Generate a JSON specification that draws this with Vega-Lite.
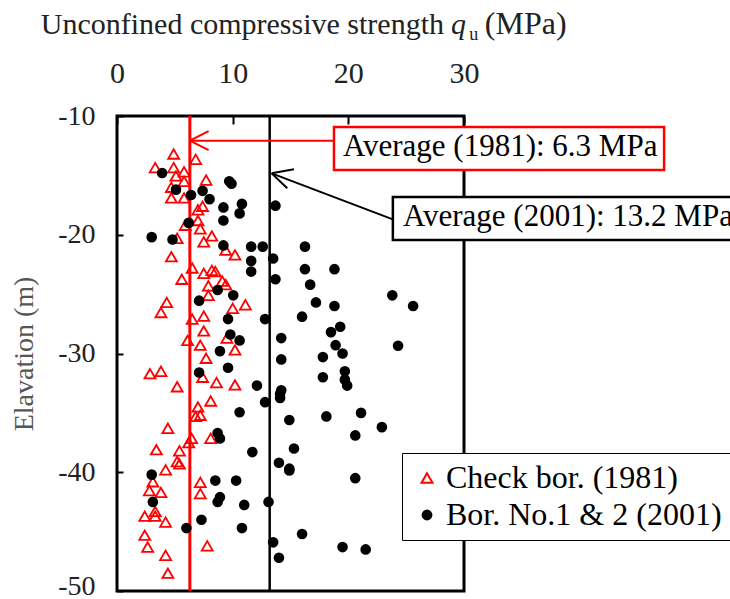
{
  "$schema": "https://vega.github.io/schema/vega-lite/v6.json",
  "width": 347,
  "height": 475,
  "autosize": {"type": "none"},
  "padding": {"left": 117, "top": 116, "right": 266, "bottom": 8},
  "background": "white",
  "data": {"values": [{}]},
  "config": {
    "view": {"stroke": "black", "strokeWidth": 3},
    "font": "Liberation Serif",
    "axis": {
      "domain": false,
      "grid": false,
      "tickColor": "black",
      "tickWidth": 2,
      "labelFont": "Liberation Serif",
      "labelColor": "#222",
      "titleFont": "Liberation Serif",
      "titleFontWeight": "normal"
    }
  },
  "datasets": {
    "samples": [
      {"series": "Check bor. (1981)", "q": 4.9, "elev": -13.2},
      {"series": "Check bor. (1981)", "q": 6.8, "elev": -13.65},
      {"series": "Check bor. (1981)", "q": 3.3, "elev": -14.35},
      {"series": "Check bor. (1981)", "q": 4.9, "elev": -14.35},
      {"series": "Check bor. (1981)", "q": 5.8, "elev": -14.7},
      {"series": "Check bor. (1981)", "q": 5.1, "elev": -15.05},
      {"series": "Check bor. (1981)", "q": 7.7, "elev": -15.4},
      {"series": "Check bor. (1981)", "q": 5.8, "elev": -15.5},
      {"series": "Check bor. (1981)", "q": 4.7, "elev": -16.0},
      {"series": "Check bor. (1981)", "q": 4.7, "elev": -16.9},
      {"series": "Check bor. (1981)", "q": 5.8, "elev": -16.9},
      {"series": "Check bor. (1981)", "q": 7.0, "elev": -17.9},
      {"series": "Check bor. (1981)", "q": 7.4, "elev": -17.6},
      {"series": "Check bor. (1981)", "q": 7.0, "elev": -18.8},
      {"series": "Check bor. (1981)", "q": 7.2, "elev": -19.5},
      {"series": "Check bor. (1981)", "q": 5.9, "elev": -19.2},
      {"series": "Check bor. (1981)", "q": 8.2, "elev": -20.1},
      {"series": "Check bor. (1981)", "q": 5.2, "elev": -20.3},
      {"series": "Check bor. (1981)", "q": 7.5, "elev": -20.6},
      {"series": "Check bor. (1981)", "q": 9.4, "elev": -21.3},
      {"series": "Check bor. (1981)", "q": 10.2, "elev": -21.7},
      {"series": "Check bor. (1981)", "q": 4.7, "elev": -21.85},
      {"series": "Check bor. (1981)", "q": 6.5, "elev": -22.8},
      {"series": "Check bor. (1981)", "q": 7.5, "elev": -23.25},
      {"series": "Check bor. (1981)", "q": 8.2, "elev": -23.0},
      {"series": "Check bor. (1981)", "q": 8.5, "elev": -23.1},
      {"series": "Check bor. (1981)", "q": 5.6, "elev": -23.75},
      {"series": "Check bor. (1981)", "q": 9.1, "elev": -23.9},
      {"series": "Check bor. (1981)", "q": 9.4, "elev": -24.2},
      {"series": "Check bor. (1981)", "q": 7.9, "elev": -24.3},
      {"series": "Check bor. (1981)", "q": 7.9, "elev": -25.1},
      {"series": "Check bor. (1981)", "q": 4.3, "elev": -25.7},
      {"series": "Check bor. (1981)", "q": 3.8, "elev": -26.55},
      {"series": "Check bor. (1981)", "q": 11.1, "elev": -25.9},
      {"series": "Check bor. (1981)", "q": 10.0, "elev": -26.2},
      {"series": "Check bor. (1981)", "q": 6.5, "elev": -27.1},
      {"series": "Check bor. (1981)", "q": 7.5, "elev": -26.85},
      {"series": "Check bor. (1981)", "q": 7.5, "elev": -28.1},
      {"series": "Check bor. (1981)", "q": 6.1, "elev": -28.9},
      {"series": "Check bor. (1981)", "q": 7.2, "elev": -29.3},
      {"series": "Check bor. (1981)", "q": 9.5, "elev": -28.7},
      {"series": "Check bor. (1981)", "q": 10.2, "elev": -29.7},
      {"series": "Check bor. (1981)", "q": 7.7, "elev": -30.4},
      {"series": "Check bor. (1981)", "q": 2.85, "elev": -31.7},
      {"series": "Check bor. (1981)", "q": 3.8, "elev": -31.5},
      {"series": "Check bor. (1981)", "q": 7.4, "elev": -32.0},
      {"series": "Check bor. (1981)", "q": 5.2, "elev": -32.8},
      {"series": "Check bor. (1981)", "q": 8.6, "elev": -32.45},
      {"series": "Check bor. (1981)", "q": 10.2, "elev": -32.65},
      {"series": "Check bor. (1981)", "q": 8.1, "elev": -34.0},
      {"series": "Check bor. (1981)", "q": 7.0, "elev": -34.5},
      {"series": "Check bor. (1981)", "q": 6.8, "elev": -35.3},
      {"series": "Check bor. (1981)", "q": 7.2, "elev": -35.2},
      {"series": "Check bor. (1981)", "q": 4.4, "elev": -36.3},
      {"series": "Check bor. (1981)", "q": 6.45, "elev": -37.15},
      {"series": "Check bor. (1981)", "q": 6.2, "elev": -37.5},
      {"series": "Check bor. (1981)", "q": 8.1, "elev": -37.15},
      {"series": "Check bor. (1981)", "q": 3.4, "elev": -38.1},
      {"series": "Check bor. (1981)", "q": 5.4, "elev": -38.2},
      {"series": "Check bor. (1981)", "q": 5.2, "elev": -39.1},
      {"series": "Check bor. (1981)", "q": 5.4, "elev": -39.3},
      {"series": "Check bor. (1981)", "q": 4.2, "elev": -39.8},
      {"series": "Check bor. (1981)", "q": 3.1, "elev": -40.8},
      {"series": "Check bor. (1981)", "q": 2.8, "elev": -41.55},
      {"series": "Check bor. (1981)", "q": 3.8, "elev": -41.7},
      {"series": "Check bor. (1981)", "q": 7.2, "elev": -40.85},
      {"series": "Check bor. (1981)", "q": 7.2, "elev": -41.8},
      {"series": "Check bor. (1981)", "q": 3.3, "elev": -43.3},
      {"series": "Check bor. (1981)", "q": 3.3, "elev": -43.7},
      {"series": "Check bor. (1981)", "q": 2.4, "elev": -43.7},
      {"series": "Check bor. (1981)", "q": 4.2, "elev": -44.2},
      {"series": "Check bor. (1981)", "q": 2.4, "elev": -45.3},
      {"series": "Check bor. (1981)", "q": 2.65, "elev": -46.3},
      {"series": "Check bor. (1981)", "q": 7.8, "elev": -46.2},
      {"series": "Check bor. (1981)", "q": 4.2, "elev": -47.0},
      {"series": "Check bor. (1981)", "q": 4.4, "elev": -48.5},
      {"series": "Bor. No.1 & 2 (2001)", "q": 3.9, "elev": -14.8},
      {"series": "Bor. No.1 & 2 (2001)", "q": 9.7, "elev": -15.5},
      {"series": "Bor. No.1 & 2 (2001)", "q": 9.9, "elev": -15.7},
      {"series": "Bor. No.1 & 2 (2001)", "q": 5.1, "elev": -16.2},
      {"series": "Bor. No.1 & 2 (2001)", "q": 6.4, "elev": -16.65},
      {"series": "Bor. No.1 & 2 (2001)", "q": 7.4, "elev": -16.3},
      {"series": "Bor. No.1 & 2 (2001)", "q": 8.0, "elev": -17.0},
      {"series": "Bor. No.1 & 2 (2001)", "q": 9.2, "elev": -17.7},
      {"series": "Bor. No.1 & 2 (2001)", "q": 10.8, "elev": -17.4},
      {"series": "Bor. No.1 & 2 (2001)", "q": 10.6, "elev": -18.2},
      {"series": "Bor. No.1 & 2 (2001)", "q": 9.2, "elev": -18.8},
      {"series": "Bor. No.1 & 2 (2001)", "q": 6.2, "elev": -19.0},
      {"series": "Bor. No.1 & 2 (2001)", "q": 3.0, "elev": -20.2},
      {"series": "Bor. No.1 & 2 (2001)", "q": 4.8, "elev": -20.4},
      {"series": "Bor. No.1 & 2 (2001)", "q": 9.2, "elev": -20.9},
      {"series": "Bor. No.1 & 2 (2001)", "q": 11.6, "elev": -21.0},
      {"series": "Bor. No.1 & 2 (2001)", "q": 12.6, "elev": -21.0},
      {"series": "Bor. No.1 & 2 (2001)", "q": 11.6, "elev": -22.2},
      {"series": "Bor. No.1 & 2 (2001)", "q": 13.5, "elev": -22.0},
      {"series": "Bor. No.1 & 2 (2001)", "q": 13.7, "elev": -17.55},
      {"series": "Bor. No.1 & 2 (2001)", "q": 16.25, "elev": -21.0},
      {"series": "Bor. No.1 & 2 (2001)", "q": 11.6, "elev": -23.1},
      {"series": "Bor. No.1 & 2 (2001)", "q": 16.25, "elev": -22.9},
      {"series": "Bor. No.1 & 2 (2001)", "q": 18.8, "elev": -22.9},
      {"series": "Bor. No.1 & 2 (2001)", "q": 13.7, "elev": -23.75},
      {"series": "Bor. No.1 & 2 (2001)", "q": 16.7, "elev": -24.2},
      {"series": "Bor. No.1 & 2 (2001)", "q": 23.8, "elev": -25.1},
      {"series": "Bor. No.1 & 2 (2001)", "q": 25.6, "elev": -26.0},
      {"series": "Bor. No.1 & 2 (2001)", "q": 17.2, "elev": -25.7},
      {"series": "Bor. No.1 & 2 (2001)", "q": 18.8, "elev": -26.0},
      {"series": "Bor. No.1 & 2 (2001)", "q": 16.0, "elev": -26.9},
      {"series": "Bor. No.1 & 2 (2001)", "q": 12.8, "elev": -27.1},
      {"series": "Bor. No.1 & 2 (2001)", "q": 19.3, "elev": -27.75},
      {"series": "Bor. No.1 & 2 (2001)", "q": 18.5, "elev": -28.2},
      {"series": "Bor. No.1 & 2 (2001)", "q": 14.2, "elev": -28.7},
      {"series": "Bor. No.1 & 2 (2001)", "q": 18.9, "elev": -29.3},
      {"series": "Bor. No.1 & 2 (2001)", "q": 24.3, "elev": -29.35},
      {"series": "Bor. No.1 & 2 (2001)", "q": 19.5, "elev": -30.0},
      {"series": "Bor. No.1 & 2 (2001)", "q": 17.8, "elev": -30.3},
      {"series": "Bor. No.1 & 2 (2001)", "q": 14.2, "elev": -30.5},
      {"series": "Bor. No.1 & 2 (2001)", "q": 19.7, "elev": -31.5},
      {"series": "Bor. No.1 & 2 (2001)", "q": 19.7, "elev": -32.2},
      {"series": "Bor. No.1 & 2 (2001)", "q": 19.9, "elev": -32.7},
      {"series": "Bor. No.1 & 2 (2001)", "q": 17.8, "elev": -32.0},
      {"series": "Bor. No.1 & 2 (2001)", "q": 12.1, "elev": -32.7},
      {"series": "Bor. No.1 & 2 (2001)", "q": 14.2, "elev": -33.1},
      {"series": "Bor. No.1 & 2 (2001)", "q": 14.1, "elev": -33.4},
      {"series": "Bor. No.1 & 2 (2001)", "q": 14.1, "elev": -33.75},
      {"series": "Bor. No.1 & 2 (2001)", "q": 12.8, "elev": -34.1},
      {"series": "Bor. No.1 & 2 (2001)", "q": 14.9, "elev": -35.6},
      {"series": "Bor. No.1 & 2 (2001)", "q": 18.1, "elev": -35.3},
      {"series": "Bor. No.1 & 2 (2001)", "q": 21.1, "elev": -35.0},
      {"series": "Bor. No.1 & 2 (2001)", "q": 22.9, "elev": -36.2},
      {"series": "Bor. No.1 & 2 (2001)", "q": 20.6, "elev": -36.9},
      {"series": "Bor. No.1 & 2 (2001)", "q": 11.7, "elev": -38.3},
      {"series": "Bor. No.1 & 2 (2001)", "q": 15.3, "elev": -38.0},
      {"series": "Bor. No.1 & 2 (2001)", "q": 14.0, "elev": -39.2},
      {"series": "Bor. No.1 & 2 (2001)", "q": 14.9, "elev": -39.7},
      {"series": "Bor. No.1 & 2 (2001)", "q": 14.9, "elev": -39.85},
      {"series": "Bor. No.1 & 2 (2001)", "q": 20.6, "elev": -40.5},
      {"series": "Bor. No.1 & 2 (2001)", "q": 13.1, "elev": -42.5},
      {"series": "Bor. No.1 & 2 (2001)", "q": 16.0, "elev": -45.2},
      {"series": "Bor. No.1 & 2 (2001)", "q": 13.5, "elev": -45.9},
      {"series": "Bor. No.1 & 2 (2001)", "q": 19.5, "elev": -46.3},
      {"series": "Bor. No.1 & 2 (2001)", "q": 21.5, "elev": -46.5},
      {"series": "Bor. No.1 & 2 (2001)", "q": 14.0, "elev": -47.2},
      {"series": "Bor. No.1 & 2 (2001)", "q": 8.7, "elev": -24.65},
      {"series": "Bor. No.1 & 2 (2001)", "q": 10.05, "elev": -25.1},
      {"series": "Bor. No.1 & 2 (2001)", "q": 7.1, "elev": -25.55},
      {"series": "Bor. No.1 & 2 (2001)", "q": 9.6, "elev": -27.1},
      {"series": "Bor. No.1 & 2 (2001)", "q": 9.8, "elev": -28.4},
      {"series": "Bor. No.1 & 2 (2001)", "q": 10.6, "elev": -28.9},
      {"series": "Bor. No.1 & 2 (2001)", "q": 8.9, "elev": -29.8},
      {"series": "Bor. No.1 & 2 (2001)", "q": 9.6, "elev": -31.2},
      {"series": "Bor. No.1 & 2 (2001)", "q": 7.1, "elev": -31.6},
      {"series": "Bor. No.1 & 2 (2001)", "q": 10.6, "elev": -34.95},
      {"series": "Bor. No.1 & 2 (2001)", "q": 8.7, "elev": -36.7},
      {"series": "Bor. No.1 & 2 (2001)", "q": 8.9, "elev": -37.15},
      {"series": "Bor. No.1 & 2 (2001)", "q": 3.0, "elev": -40.2},
      {"series": "Bor. No.1 & 2 (2001)", "q": 3.1, "elev": -42.5},
      {"series": "Bor. No.1 & 2 (2001)", "q": 8.5, "elev": -40.7},
      {"series": "Bor. No.1 & 2 (2001)", "q": 10.3, "elev": -40.7},
      {"series": "Bor. No.1 & 2 (2001)", "q": 8.9, "elev": -42.1},
      {"series": "Bor. No.1 & 2 (2001)", "q": 8.7, "elev": -42.5},
      {"series": "Bor. No.1 & 2 (2001)", "q": 11.0, "elev": -42.75},
      {"series": "Bor. No.1 & 2 (2001)", "q": 7.3, "elev": -44.0},
      {"series": "Bor. No.1 & 2 (2001)", "q": 6.0, "elev": -44.7},
      {"series": "Bor. No.1 & 2 (2001)", "q": 10.8, "elev": -44.7}
    ]
  },
  "layer": [
    {
      "mark": {"type": "rule", "color": "#ff0000", "strokeWidth": 3},
      "encoding": {"x": {"datum": 6.3, "type": "quantitative"}}
    },
    {
      "mark": {"type": "rule", "color": "black", "strokeWidth": 2.5},
      "encoding": {"x": {"datum": 13.2, "type": "quantitative"}}
    },
    {
      "data": {"name": "samples"},
      "mark": {"type": "point", "strokeWidth": 1.8, "opacity": 1},
      "encoding": {
        "x": {
          "field": "q",
          "type": "quantitative",
          "scale": {"domain": [0, 30], "nice": false, "zero": false},
          "axis": {
            "orient": "top",
            "values": [0, 10, 20, 30],
            "tickSize": -8,
            "labelPadding": 36,
            "labelFontSize": 30,
            "labelFlush": false,
            "title": null
          }
        },
        "y": {
          "field": "elev",
          "type": "quantitative",
          "scale": {"domain": [-50, -10], "nice": false, "zero": false},
          "axis": {
            "values": [-10, -20, -30, -40, -50],
            "tickSize": -6,
            "labelPadding": 28,
            "labelOffset": {"condition": {"test": "datum.value == -50", "value": -5}, "value": 0},
            "labelFontSize": 28,
            "labelFlush": false,
            "labelExpr": "'' + datum.value",
            "title": "Elavation (m)",
            "titleFontSize": 28,
            "titleColor": "#555",
            "titlePadding": 19
          }
        },
        "shape": {
          "field": "series",
          "type": "nominal",
          "scale": {"domain": ["Check bor. (1981)", "Bor. No.1 & 2 (2001)"], "range": ["triangle-up", "circle"]},
          "legend": {
            "title": null,
            "orient": "none",
            "legendX": 285,
            "legendY": 337,
            "padding": 9,
            "symbolOffset": 0,
            "labelOffset": 3,
            "rowPadding": 5,
            "strokeColor": "black",
            "fillColor": "white",
            "labelFont": "Liberation Serif",
            "labelFontSize": 32,
            "labelColor": "black",
            "labelLimit": 400,
            "symbolStrokeWidth": 2,
            "encode": {"legend": {"update": {"strokeWidth": {"value": 2}}}}
          }
        },
        "stroke": {
          "field": "series",
          "type": "nominal",
          "scale": {"domain": ["Check bor. (1981)", "Bor. No.1 & 2 (2001)"], "range": ["#ff0000", "#000000"]}
        },
        "fill": {
          "field": "series",
          "type": "nominal",
          "scale": {"domain": ["Check bor. (1981)", "Bor. No.1 & 2 (2001)"], "range": ["transparent", "#000000"]}
        },
        "size": {
          "field": "series",
          "type": "nominal",
          "scale": {"domain": ["Check bor. (1981)", "Bor. No.1 & 2 (2001)"], "range": [120, 78]}
        }
      }
    },
    {
      "mark": {"type": "rule", "color": "#ff0000", "strokeWidth": 2},
      "encoding": {
        "x": {"datum": 6.3, "type": "quantitative"},
        "x2": {"datum": 18.76},
        "y": {"datum": -12.08, "type": "quantitative"}
      }
    },
    {
      "mark": {"type": "rule", "color": "#ff0000", "strokeWidth": 2},
      "encoding": {
        "x": {"datum": 6.3, "type": "quantitative"},
        "x2": {"datum": 7.92},
        "y": {"datum": -12.08, "type": "quantitative"},
        "y2": {"datum": -11.28}
      }
    },
    {
      "mark": {"type": "rule", "color": "#ff0000", "strokeWidth": 2},
      "encoding": {
        "x": {"datum": 6.3, "type": "quantitative"},
        "x2": {"datum": 7.92},
        "y": {"datum": -12.08, "type": "quantitative"},
        "y2": {"datum": -12.88}
      }
    },
    {
      "mark": {"type": "rule", "color": "black", "strokeWidth": 2},
      "encoding": {
        "x": {"datum": 13.37, "type": "quantitative"},
        "x2": {"datum": 23.85},
        "y": {"datum": -14.83, "type": "quantitative"},
        "y2": {"datum": -18.7}
      }
    },
    {
      "mark": {"type": "rule", "color": "black", "strokeWidth": 2},
      "encoding": {
        "x": {"datum": 13.37, "type": "quantitative"},
        "x2": {"datum": 15.3},
        "y": {"datum": -14.83, "type": "quantitative"},
        "y2": {"datum": -14.49}
      }
    },
    {
      "mark": {"type": "rule", "color": "black", "strokeWidth": 2},
      "encoding": {
        "x": {"datum": 13.37, "type": "quantitative"},
        "x2": {"datum": 14.72},
        "y": {"datum": -14.83, "type": "quantitative"},
        "y2": {"datum": -16.09}
      }
    },
    {
      "mark": {"type": "rect", "fill": "white", "stroke": "#ff0000", "strokeWidth": 2.5},
      "encoding": {
        "x": {"datum": 18.76, "type": "quantitative"},
        "x2": {"datum": 47.3},
        "y": {"datum": -10.93, "type": "quantitative"},
        "y2": {"datum": -14.55}
      }
    },
    {
      "mark": {"type": "text", "align": "left", "baseline": "alphabetic", "font": "Liberation Serif", "fontSize": 31, "color": "black"},
      "encoding": {
        "x": {"datum": 19.53, "type": "quantitative"},
        "y": {"datum": -13.37, "type": "quantitative"},
        "text": {"value": "Average (1981): 6.3 MPa"}
      }
    },
    {
      "mark": {"type": "rect", "fill": "white", "stroke": "black", "strokeWidth": 2.5},
      "encoding": {
        "x": {"datum": 23.85, "type": "quantitative"},
        "x2": {"datum": 62},
        "y": {"datum": -16.82, "type": "quantitative"},
        "y2": {"datum": -20.44}
      }
    },
    {
      "mark": {"type": "text", "align": "left", "baseline": "alphabetic", "font": "Liberation Serif", "fontSize": 31, "color": "black"},
      "encoding": {
        "x": {"datum": 24.72, "type": "quantitative"},
        "y": {"datum": -19.26, "type": "quantitative"},
        "text": {"value": "Average (2001): 13.2 MPa"}
      }
    },
    {
      "mark": {"type": "text", "align": "left", "baseline": "alphabetic", "font": "Liberation Serif", "fontSize": 30, "color": "#222"},
      "encoding": {
        "x": {"datum": -6.59, "type": "quantitative"},
        "y": {"datum": -3.12, "type": "quantitative"},
        "text": {"value": "Unconfined compressive strength"}
      }
    },
    {
      "mark": {"type": "text", "align": "left", "baseline": "alphabetic", "font": "Liberation Serif", "fontSize": 30, "fontStyle": "italic", "color": "#222"},
      "encoding": {
        "x": {"datum": 28.87, "type": "quantitative"},
        "y": {"datum": -3.12, "type": "quantitative"},
        "text": {"value": "q"}
      }
    },
    {
      "mark": {"type": "text", "align": "left", "baseline": "alphabetic", "font": "Liberation Serif", "fontSize": 18, "color": "#222"},
      "encoding": {
        "x": {"datum": 30.45, "type": "quantitative"},
        "y": {"datum": -3.6, "type": "quantitative"},
        "text": {"value": "u"}
      }
    },
    {
      "mark": {"type": "text", "align": "left", "baseline": "alphabetic", "font": "Liberation Serif", "fontSize": 32, "color": "#222"},
      "encoding": {
        "x": {"datum": 31.8, "type": "quantitative"},
        "y": {"datum": -3.12, "type": "quantitative"},
        "text": {"value": "(MPa)"}
      }
    }
  ]
}
